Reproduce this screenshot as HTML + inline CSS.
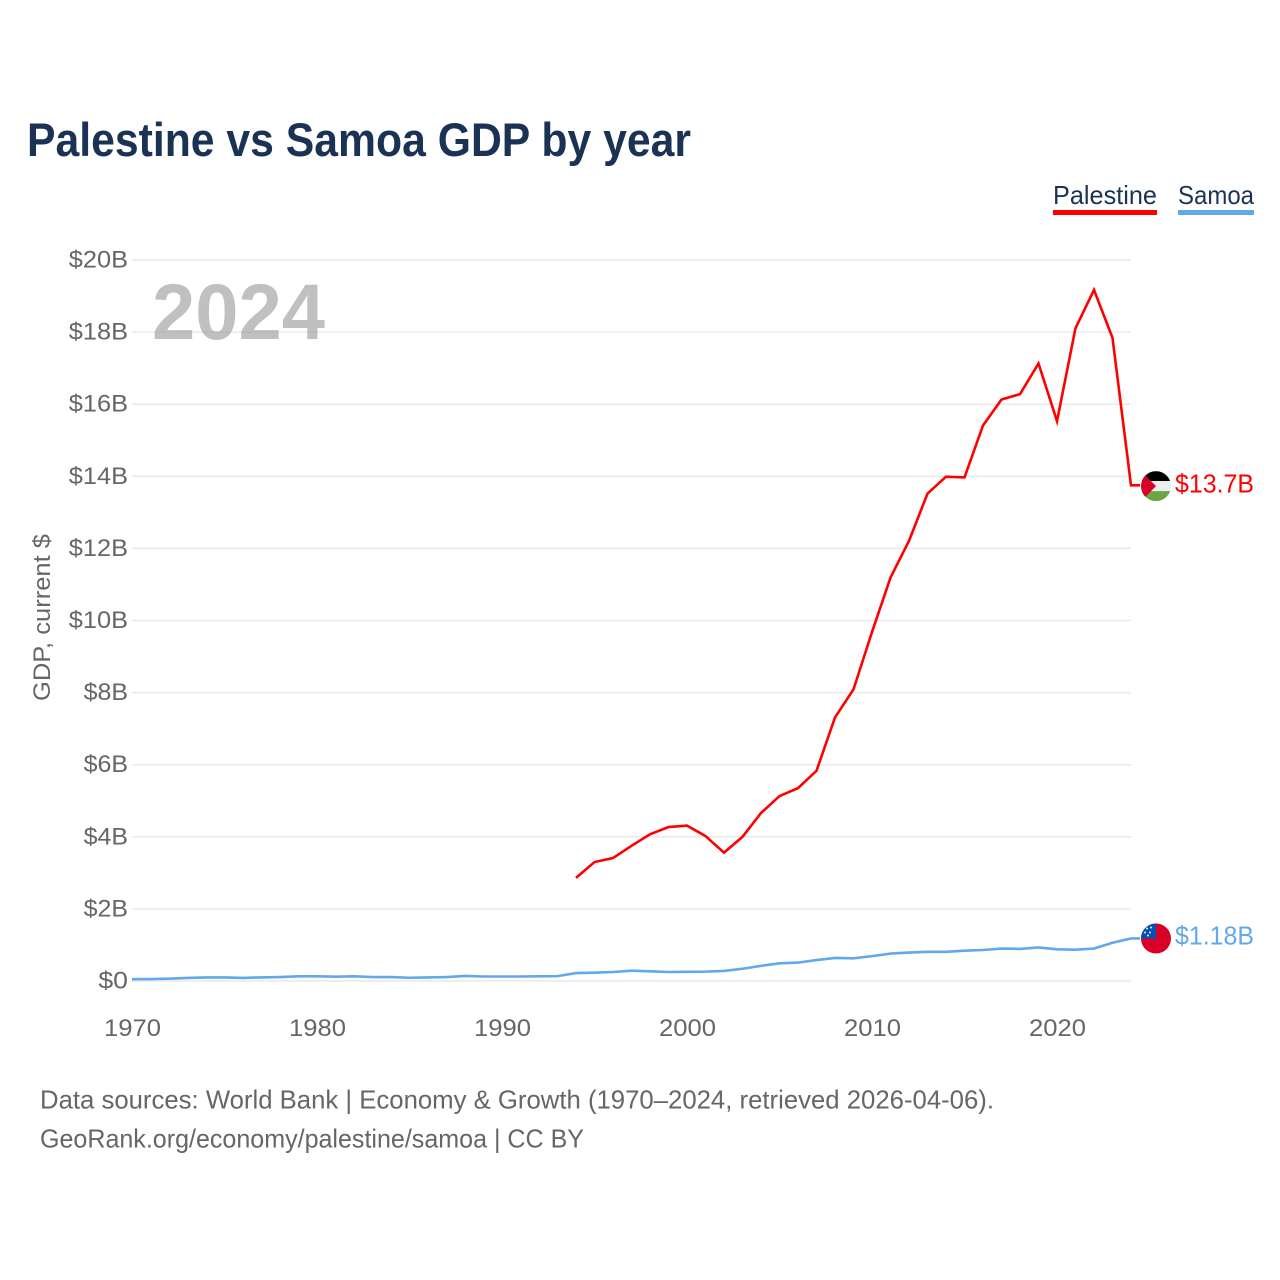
<!DOCTYPE html>
<html lang="en">
<head>
<meta charset="utf-8">
<title>Palestine vs Samoa GDP by year</title>
<style>
html,body{margin:0;padding:0;background:#fff;width:1280px;height:1280px;overflow:hidden}
svg{display:block;font-family:"Liberation Sans",sans-serif}
</style>
</head>
<body>
<svg id="chart" xmlns="http://www.w3.org/2000/svg" width="1280" height="1280" viewBox="0 0 1280 1280">
  <defs>
    <clipPath id="flag-clip"><circle cx="0" cy="0" r="15"></circle></clipPath>
  </defs>
  <rect width="1280" height="1280" fill="#fff"></rect>
  <text x="27" y="156" font-size="47" font-weight="700" fill="#1a3355" textLength="664" lengthAdjust="spacingAndGlyphs">Palestine vs Samoa GDP by year</text>

  <g>
    <g>
      <text x="1053" y="204" font-size="26" fill="#1a3355" textLength="104" lengthAdjust="spacingAndGlyphs">Palestine</text>
      <rect x="1053" y="210" width="104" height="5" fill="#ff0000"></rect>
    </g>
    <g>
      <text x="1178" y="204" font-size="26" fill="#1a3355" textLength="76" lengthAdjust="spacingAndGlyphs">Samoa</text>
      <rect x="1178" y="210" width="76" height="5" fill="#62a8ea"></rect>
    </g>
  </g>

  <g id="grid"></g>
  <g id="y-axis"></g>
  <g id="x-axis"></g>

  <text transform="translate(50,701) rotate(-90)" x="0" y="0" font-size="24" fill="#666" textLength="167" lengthAdjust="spacingAndGlyphs">GDP, current $</text>

  <text x="152" y="339" font-size="79" font-weight="700" fill="#999" fill-opacity="0.62" textLength="173" lengthAdjust="spacingAndGlyphs">2024</text>

  <g id="series"></g>

  <g id="flag-palestine">
    <g clip-path="url(#flag-clip)">
      <rect x="-15" y="-15" width="30" height="10" fill="#000"></rect>
      <rect x="-15" y="-5" width="30" height="10" fill="#eeeeee"></rect>
      <rect x="-15" y="5" width="30" height="10" fill="#6da544"></rect>
      <polygon points="-15,-15 0,0 -15,15" fill="#d80027"></polygon>
    </g>
  </g>
  <g id="flag-samoa">
    <g clip-path="url(#flag-clip)">
      <rect x="-15" y="-15" width="30" height="30" fill="#d80027"></rect>
      <rect x="-15" y="-15" width="15" height="15" fill="#0052b4"></rect>
      <circle cx="-9" cy="-10" r="1" fill="#eee"></circle>
      <circle cx="-5" cy="-11" r="1" fill="#eee"></circle>
      <circle cx="-11" cy="-6" r="1" fill="#eee"></circle>
      <circle cx="-6" cy="-6" r="1" fill="#eee"></circle>
      <circle cx="-8" cy="-3" r="1" fill="#eee"></circle>
    </g>
  </g>

  <text id="value-palestine" x="1175" font-size="26" fill="#ff0000" textLength="79" lengthAdjust="spacingAndGlyphs"></text>
  <text id="value-samoa" x="1175" font-size="26" fill="#62a8ea" textLength="79" lengthAdjust="spacingAndGlyphs"></text>

  <text x="40" y="1108.5" font-size="26" fill="#666" textLength="954" lengthAdjust="spacingAndGlyphs">Data sources: World Bank | Economy &amp; Growth (1970–2024, retrieved 2026-04-06).</text>
  <text x="40" y="1147.5" font-size="26" fill="#666" textLength="544" lengthAdjust="spacingAndGlyphs">GeoRank.org/economy/palestine/samoa | CC BY</text>
</svg>
<script>
const samoaStartYear = 1970;
const palestineStartYear = 1994;
const samoaValues = [0.05,0.055,0.065,0.085,0.1,0.1,0.085,0.1,0.11,0.13,0.13,0.12,0.13,0.11,0.11,0.09,0.1,0.11,0.14,0.125,0.125,0.125,0.13,0.135,0.22,0.23,0.25,0.285,0.27,0.25,0.255,0.26,0.28,0.34,0.42,0.49,0.51,0.58,0.64,0.63,0.69,0.76,0.79,0.81,0.81,0.84,0.86,0.9,0.89,0.93,0.88,0.87,0.9,1.06,1.18];
const palestineValues = [2.86,3.3,3.41,3.75,4.07,4.27,4.31,4.02,3.56,4.0,4.66,5.13,5.35,5.83,7.31,8.09,9.68,11.19,12.21,13.52,13.99,13.97,15.41,16.13,16.28,17.13,15.53,18.11,19.17,17.84,13.75];
const yTicks = [0,2,4,6,8,10,12,14,16,18,20];
const yTickLabels = ["$0","$2B","$4B","$6B","$8B","$10B","$12B","$14B","$16B","$18B","$20B"];
const xTicks = [1970,1980,1990,2000,2010,2020];
const palestineValueLabel = "$13.7B";
const samoaValueLabel = "$1.18B";

const SVG_NS = "http://www.w3.org/2000/svg";
const xScale = function (year) { return 132 + (year - 1970) * 18.5; };
const yScale = function (value) { return 981 - value * 36.05; };
const flagX = 1156;
const connectorEnd = 1140;

const grid = document.getElementById("grid");
const yAxis = document.getElementById("y-axis");
const xAxis = document.getElementById("x-axis");
const series = document.getElementById("series");

yTicks.forEach(function (tick, i) {
  const line = document.createElementNS(SVG_NS, "line");
  
  
  line.setAttribute("x1", 132);
  line.setAttribute("x2", 1131);
  line.setAttribute("y1", yScale(tick));
  line.setAttribute("y2", yScale(tick));
  line.setAttribute("stroke", "#e9e9e9");
  line.setAttribute("stroke-width", "1.5");
  grid.appendChild(line);

  const label = document.createElementNS(SVG_NS, "text");
  
  
  label.setAttribute("x", 128);
  label.setAttribute("y", yScale(tick) + 7.5);
  label.setAttribute("text-anchor", "end");
  label.setAttribute("font-size", "24.5");
  label.setAttribute("fill", "#666");
  label.setAttribute("textLength", String(yTickLabels[i].length * 14.8));
  label.setAttribute("lengthAdjust", "spacingAndGlyphs");
  label.textContent = yTickLabels[i];
  yAxis.appendChild(label);
});

xTicks.forEach(function (tick) {
  const label = document.createElementNS(SVG_NS, "text");
  
  
  label.setAttribute("x", xScale(tick) + 0.5);
  label.setAttribute("y", 1036);
  label.setAttribute("text-anchor", "middle");
  label.setAttribute("font-size", "24.5");
  label.setAttribute("fill", "#666");
  label.setAttribute("textLength", "57");
  label.setAttribute("lengthAdjust", "spacingAndGlyphs");
  label.textContent = String(tick);
  xAxis.appendChild(label);
});

function linePoints(values, startYear) {
  const pts = values.map(function (v, i) {
    return xScale(startYear + i).toFixed(2) + "," + yScale(v).toFixed(2);
  });
  pts.push(connectorEnd + "," + yScale(values[values.length - 1]).toFixed(2));
  return pts.join(" ");
}

const samoaLine = document.createElementNS(SVG_NS, "polyline");


samoaLine.setAttribute("points", linePoints(samoaValues, samoaStartYear));
samoaLine.setAttribute("fill", "none");
samoaLine.setAttribute("stroke", "#62a8ea");
samoaLine.setAttribute("stroke-width", "2.6");
series.appendChild(samoaLine);

const palestineLine = document.createElementNS(SVG_NS, "polyline");


palestineLine.setAttribute("points", linePoints(palestineValues, palestineStartYear));
palestineLine.setAttribute("fill", "none");
palestineLine.setAttribute("stroke", "#ff0000");
palestineLine.setAttribute("stroke-width", "2.6");
series.appendChild(palestineLine);

const palestineEndY = yScale(palestineValues[palestineValues.length - 1]);
const samoaEndY = yScale(samoaValues[samoaValues.length - 1]);
document.getElementById("flag-palestine").setAttribute("transform", "translate(" + flagX + "," + (palestineEndY + 0.8) + ")");
document.getElementById("flag-samoa").setAttribute("transform", "translate(" + flagX + "," + samoaEndY + ")");
const valuePalestine = document.getElementById("value-palestine");
valuePalestine.setAttribute("y", palestineEndY + 7);
valuePalestine.textContent = palestineValueLabel;
const valueSamoa = document.getElementById("value-samoa");
valueSamoa.setAttribute("y", samoaEndY + 6);
valueSamoa.textContent = samoaValueLabel;
</script>
</body>
</html>
